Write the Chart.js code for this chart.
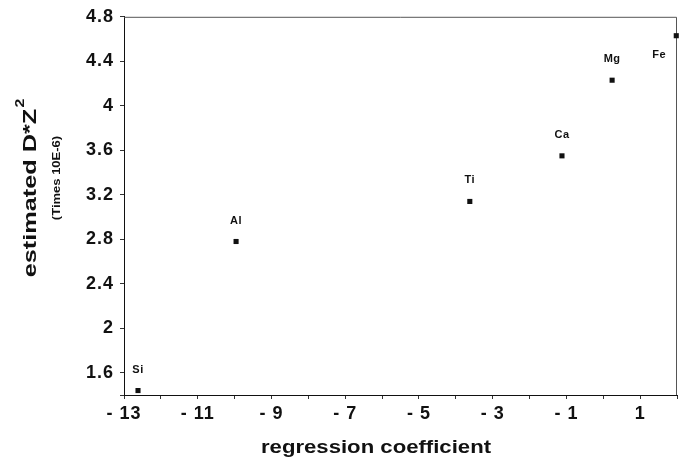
<!DOCTYPE html>
<html>
<head>
<meta charset="utf-8">
<script src="https://cdn.jsdelivr.net/npm/chart.js@4/dist/chart.umd.min.js"></script>
<style>
  html, body { margin: 0; padding: 0; background: #fff; }
  #wrap { width: 686px; height: 460px; }
</style>
</head>
<body>
<div id="wrap"><canvas id="c" width="686" height="460"></canvas></div>
<script>
// element name, regression coefficient, estimated D*Z^2 (times 10E-6)
const elements = ['Si', 'Al', 'Ti', 'Ca', 'Mg', 'Fe'];
const coefs = [-12.62, -9.96, -3.62, -1.12, 0.24, 1.98];
const dz2 = [1.44, 2.78, 3.14, 3.55, 4.23, 4.63];

const yTicks = [1.6, 2, 2.4, 2.8, 3.2, 3.6, 4, 4.4, 4.8];
const xMin = -13, xMax = 2;
const yMin = 1.4, yMax = 4.8;

const FONT = '"Liberation Sans", Arial, sans-serif';

const points = coefs.map((x, i) => ({ x: x, y: dz2[i] }));

// label placement relative to the marker
const labelShift = { Fe: [-17, 19] };

// the scanned lettering is a bit wider than Arial
const spacing = {
  id: 'spacing',
  beforeUpdate(chart) { chart.ctx.letterSpacing = '1px'; },
  beforeDraw(chart) { chart.ctx.letterSpacing = '1px'; }
};

const pointLabels = {
  id: 'pointLabels',
  afterDatasetsDraw(chart) {
    const ctx = chart.ctx;
    const meta = chart.getDatasetMeta(0);
    ctx.save();
    ctx.letterSpacing = '0.5px';
    ctx.font = 'bold 11px ' + FONT;
    ctx.fillStyle = '#111';
    ctx.textAlign = 'center';
    ctx.textBaseline = 'middle';
    meta.data.forEach((pt, i) => {
      const s = labelShift[elements[i]] || [0, -21];
      ctx.fillText(elements[i], pt.x + s[0], pt.y + s[1]);
    });
    ctx.restore();
  }
};

const frame = {
  id: 'frame',
  beforeDatasetsDraw(chart) {
    const a = chart.chartArea;
    const ctx = chart.ctx;
    ctx.save();
    ctx.strokeStyle = '#555';
    ctx.lineWidth = 1;
    ctx.beginPath();
    ctx.moveTo(a.left, a.top + 0.5);
    ctx.lineTo(a.right - 0.5, a.top + 0.5);
    ctx.lineTo(a.right - 0.5, a.bottom);
    ctx.stroke();
    ctx.restore();
  }
};

const titles = {
  id: 'titles',
  afterDraw(chart) {
    const ctx = chart.ctx;
    ctx.save();
    ctx.letterSpacing = '0px';
    ctx.fillStyle = '#111';
    ctx.textBaseline = 'middle';
    ctx.textAlign = 'center';
    // x title
    ctx.translate(376, 448);
    ctx.scale(1.23, 1);
    ctx.font = 'bold 18px ' + FONT;
    ctx.fillText('regression coefficient', 0, 0);
    ctx.restore();

    // y title
    ctx.save();
    ctx.letterSpacing = '0px';
    ctx.fillStyle = '#111';
    ctx.textBaseline = 'middle';
    ctx.translate(31, 193);
    ctx.rotate(-Math.PI / 2);
    ctx.scale(1.33, 1);
    ctx.font = 'bold 19px ' + FONT;
    const main = 'estimated D*Z';
    const w = ctx.measureText(main).width;
    ctx.textAlign = 'left';
    ctx.fillText(main, -w / 2, 0);
    ctx.font = 'bold 12px ' + FONT;
    ctx.fillText('2', w / 2 + 1, -10);
    ctx.restore();

    ctx.save();
    ctx.letterSpacing = '0px';
    ctx.fillStyle = '#111';
    ctx.translate(57, 178);
    ctx.rotate(-Math.PI / 2);
    ctx.scale(1.3, 1);
    ctx.font = 'bold 10px ' + FONT;
    ctx.textAlign = 'center';
    ctx.textBaseline = 'middle';
    ctx.fillText('(Times 10E-6)', 0, 0);
    ctx.restore();
  }
};

new Chart(document.getElementById('c'), {
  type: 'scatter',
  data: {
    datasets: [{
      data: points,
      pointStyle: 'rect',
      pointRadius: 3.6,
      pointHoverRadius: 3.6,
      backgroundColor: '#111',
      borderColor: '#111',
      borderWidth: 0,
      clip: false
    }]
  },
  options: {
    responsive: false,
    animation: false,
    events: [],
    layout: { padding: { left: 0, right: 9, top: 15, bottom: 0 } },
    plugins: { legend: { display: false }, tooltip: { enabled: false } },
    scales: {
      x: {
        type: 'linear',
        min: xMin,
        max: xMax,
        afterBuildTicks: s => {
          const t = [];
          for (let v = xMin; v <= xMax; v++) t.push({ value: v });
          s.ticks = t;
        },
        afterFit: s => { s.height = 65; },
        border: { display: true, color: '#111', width: 1 },
        grid: { drawOnChartArea: false, drawTicks: true, tickLength: 4, color: '#333' },
        ticks: {
          autoSkip: false,
          maxRotation: 0,
          padding: 4,
          color: '#111',
          font: { family: FONT, size: 18, weight: 'bold' },
          callback: v => (Math.abs(v) % 2 === 1 ? String(v).replace('-', '- ') : '')
        }
      },
      y: {
        type: 'linear',
        min: yMin,
        max: yMax,
        afterBuildTicks: s => { s.ticks = [{ value: yMin }].concat(yTicks.map(v => ({ value: v }))); },
        afterFit: s => { s.width = 124; },
        border: { display: true, color: '#111', width: 1 },
        grid: { drawOnChartArea: false, drawTicks: true, tickLength: 4, color: '#333' },
        ticks: {
          autoSkip: false,
          padding: 6,
          color: '#111',
          font: { family: FONT, size: 18, weight: 'bold' },
          callback: v => (v === yMin ? '' : String(v))
        }
      }
    }
  },
  plugins: [spacing, frame, pointLabels, titles]
});
</script>
</body>
</html>
